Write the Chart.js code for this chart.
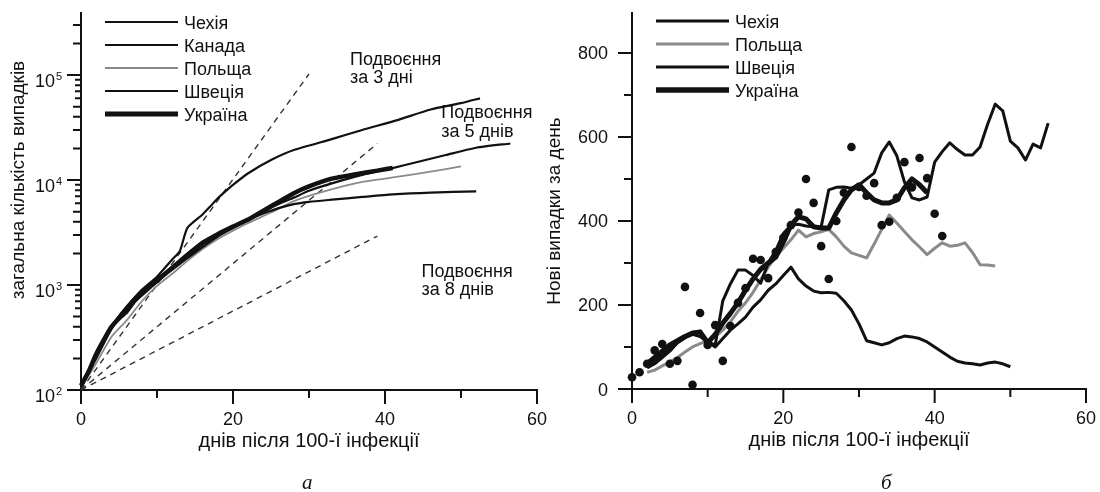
<!DOCTYPE html>
<html>
<head>
<meta charset="utf-8">
<script src="https://cdn.jsdelivr.net/npm/chart.js@4/dist/chart.umd.min.js"></script>
<style>
body { margin: 0; background: #fff; width: 1100px; height: 492px; position: relative; overflow: hidden; }
.box { position: absolute; top: 0; height: 492px; }
.cap { position: absolute; top: 470px; font: italic 21px "Liberation Serif", "Times New Roman", serif; color: #111; }
</style>
</head>
<body>
<div class="box" style="left:0; width:560px"><canvas id="cumul"></canvas></div>
<div class="box" style="left:540px; width:560px"><canvas id="daily"></canvas></div>
<div class="cap" style="left:302px">а</div>
<div class="cap" style="left:881px">б</div>
<script>
// --- а: total cases, log scale ---
const czDaysA = [0, 2, 4, 6, 8, 10, 12, 14, 16, 18, 20, 22, 24, 26, 28, 30, 33, 37, 41, 46, 52];
const czTotal = [110, 210, 400, 620, 880, 1150, 1500, 2000, 2600, 3100, 3600, 4200, 4800, 5400, 5900, 6200, 6500, 6900, 7300, 7600, 7800];
const caDays = [0, 2, 4, 6, 8, 10, 12, 13, 14, 16, 17, 18, 19, 20, 22, 25, 28, 33, 37, 41.5, 46, 50, 52.5];
const caTotal = [105, 210, 400, 620, 900, 1200, 1750, 2100, 3500, 4700, 5600, 6700, 7800, 9000, 11600, 15500, 19300, 24500, 30000, 37000, 47000, 54000, 60000];
const plDaysA = [0, 2, 4, 6, 8, 10, 12, 14, 16, 18, 20, 22, 25, 28, 32, 37, 41.5, 46, 50];
const plTotal = [105, 180, 320, 460, 700, 980, 1280, 1700, 2200, 2750, 3300, 3900, 4900, 6300, 7800, 9600, 10700, 12000, 13500];
const seDaysA = [0, 2, 4, 6, 8, 10, 12, 14, 16, 18, 20, 22, 24, 26, 28, 30, 33, 37, 41, 44, 48, 52, 56.5];
const seTotal = [110, 200, 380, 590, 850, 1100, 1400, 1800, 2300, 2900, 3500, 4200, 5000, 5900, 6800, 7900, 9300, 11200, 13000, 14700, 17300, 20300, 22300];
const uaDaysA = [0, 1, 2, 3, 4, 5, 6, 7, 8, 9, 10, 12, 14, 16, 18, 20, 22, 24, 26, 28, 30, 33, 36, 39, 41];
const uaTotal = [110, 150, 220, 300, 400, 480, 560, 700, 820, 950, 1100, 1450, 1900, 2500, 3050, 3600, 4200, 5100, 6200, 7500, 8700, 10300, 11300, 12300, 13000];

// doubling guides (end points only)
const dbl3Days = [0, 30], dbl3 = [100, 102400];
const dbl5Days = [0, 39], dbl5 = [100, 22300];
const dbl8Days = [0, 39], dbl8 = [100, 2930];

// --- б: new cases per day ---
const czDaysB = [2,3,4,5,6,7,8,9,10,11,12,13,14,15,16,17,18,19,20,21,22,23,24,25,26,27,28,29,30,31,32,33,34,35,36,37,38,39,40,41,42,43,44,45,46,47,48,49,50];
const czDaily = [50,60,75,90,110,122,130,125,112,100,120,140,155,171,195,212,235,250,270,290,262,245,233,229,230,228,210,188,155,115,110,105,110,120,126,124,120,112,100,88,76,66,62,60,57,62,64,60,53];
const plDaysB = [2,3,4,5,6,7,8,9,10,11,12,13,14,15,16,17,18,19,20,21,22,23,24,25,26,27,28,29,30,31,32,33,34,35,36,37,38,39,40,41,42,43,44,45,46,47,48];
const plDaily = [40,45,55,65,75,88,100,108,115,125,140,160,185,205,230,260,290,315,335,355,378,362,370,374,380,362,340,324,318,312,345,380,414,395,375,355,338,320,335,348,340,342,348,325,296,295,293];
const seDaysB = [2,3,4,5,6,7,8,9,10,11,12,13,14,15,16,17,18,19,20,21,22,23,24,25,26,27,28,29,30,31,32,33,34,35,36,37,38,39,40,41,42,43,44,45,46,47,48,49,50,51,52,53,54,55];
const seDaily = [55,68,80,95,110,122,135,136,112,105,210,250,283,283,270,252,300,330,370,390,392,388,386,386,474,480,481,478,486,500,514,562,588,555,493,455,450,457,540,565,586,570,557,557,576,630,678,662,590,574,545,583,574,633];
const uaDaysB = [2,3,4,5,6,7,8,9,10,11,12,13,14,15,16,17,18,19,20,21,22,23,24,25,26,27,28,29,30,31,32,33,34,35,36,37,38,39];
const uaDaily = [60,75,90,105,115,125,133,136,110,130,157,180,205,235,262,285,300,314,350,390,410,405,386,383,383,419,450,474,486,467,450,443,443,450,479,500,486,467];
const uaDotDays = [0,1,2,3,4,5,6,7,8,9,10,11,12,13,14,15,16,17,18,19,20,21,22,23,24,25,26,27,28,29,30,31,32,33,34,35,36,37,38,39,40,41];
const uaDots = [28,40,60,92,107,60,67,243,10,181,105,152,67,150,205,240,310,307,264,326,360,390,420,500,443,340,262,400,467,576,481,460,490,390,398,455,540,480,550,502,417,364];

// ticks
const xMajor = [0, 20, 40, 60], xMinor = [10, 30, 50];
const logMajor = [100, 1000, 10000, 100000];
const logExp = ['2', '3', '4', '5'];
const dailyMajor = [0, 200, 400, 600, 800], dailyMinor = [100, 300, 500, 700];

const FONT = '"Liberation Sans", Arial, sans-serif';
const ink = '#111';
const grey = '#8a8a8a';

function pts(days, vals) {
    return days.map((d, i) => ({x: d, y: vals[i]}));
}

function marks(ctx, scale, values, len) {
    ctx.beginPath();
    values.forEach(v => {
        const p = scale.getPixelForValue(v);
        if (scale.isHorizontal()) {
            ctx.moveTo(p, scale.top); ctx.lineTo(p, scale.top + len);
        } else {
            ctx.moveTo(scale.right, p); ctx.lineTo(scale.right - len, p);
        }
    });
    ctx.stroke();
}

function sideTitle(ctx, text, x, y) {
    ctx.save();
    ctx.translate(x, y);
    ctx.rotate(-Math.PI / 2);
    ctx.textAlign = 'center';
    ctx.fillText(text, 0, 6.5);
    ctx.restore();
}

function decor(cfg) {
    return {
        id: 'decor',
        afterDraw(chart) {
            const ctx = chart.ctx, xs = chart.scales.x, ys = chart.scales.y, area = chart.chartArea;
            ctx.save();
            ctx.strokeStyle = ink; ctx.fillStyle = ink; ctx.lineWidth = 2;
            marks(ctx, xs, xMajor, 14);
            marks(ctx, xs, xMinor, 8);
            marks(ctx, ys, cfg.yMajor, 14);
            marks(ctx, ys, cfg.yMinor, 8);
            if (cfg.yFine) marks(ctx, ys, cfg.yFine, 6);

            ctx.font = '18px ' + FONT;
            ctx.textAlign = 'center';
            xMajor.forEach(v => ctx.fillText(String(v), xs.getPixelForValue(v), area.bottom + 35));
            if (cfg.exps) {
                cfg.yMajor.forEach((v, i) => {
                    const p = ys.getPixelForValue(v);
                    ctx.font = '18px ' + FONT; ctx.textAlign = 'right';
                    ctx.fillText('10', area.left - 26, p + 12);
                    ctx.font = '11px ' + FONT; ctx.textAlign = 'left';
                    ctx.fillText(cfg.exps[i], area.left - 25, p + 5);
                });
            } else {
                ctx.textAlign = 'right';
                cfg.yMajor.forEach(v => ctx.fillText(String(v), area.left - 24, ys.getPixelForValue(v) + 6.5));
            }

            ctx.font = '20px ' + FONT;
            ctx.textAlign = 'center';
            ctx.fillText(cfg.xTitle, (area.left + area.right) / 2, area.bottom + 57);
            ctx.font = '19px ' + FONT;
            sideTitle(ctx, cfg.yTitle, cfg.yTitleX, cfg.yTitleY);

            // legend
            ctx.font = '18px ' + FONT;
            ctx.textAlign = 'left';
            const keys = chart.data.datasets.filter(d => d.rank !== undefined).sort((a, b) => a.rank - b.rank);
            keys.forEach((d, i) => {
                const y = cfg.keyY + i * 23;
                ctx.strokeStyle = d.borderColor;
                ctx.lineWidth = d.keyWidth;
                ctx.beginPath(); ctx.moveTo(cfg.keyX, y); ctx.lineTo(cfg.keyX + 73, y); ctx.stroke();
                ctx.fillText(d.label, cfg.keyX + 79, y + 6.5);
            });

            // notes on the doubling lines
            (cfg.notes || []).forEach(n => {
                const x = xs.getPixelForValue(n.day), y = ys.getPixelForValue(n.value);
                ctx.fillText(n.text[0], x, y + 6.5);
                ctx.fillText(n.text[1], x, y + 25);
            });
            ctx.restore();
        }
    };
}

const baseScales = (yOpts, xHeight, yWidth) => ({
    x: {
        type: 'linear', min: 0, max: 60,
        ticks: {display: false},
        grid: {display: false, drawTicks: false},
        border: {color: ink, width: 2},
        afterFit: s => { s.height = xHeight; }
    },
    y: Object.assign({
        ticks: {display: false},
        grid: {display: false, drawTicks: false},
        border: {color: ink, width: 2},
        afterFit: s => { s.width = yWidth; }
    }, yOpts)
});

function line(label, days, vals, color, width, rank, keyWidth) {
    return {label: label, data: pts(days, vals), borderColor: color, borderWidth: width,
        rank: rank, keyWidth: keyWidth, pointRadius: 0, borderJoinStyle: 'round', clip: false};
}

function guide(days, vals) {
    return {label: '', data: pts(days, vals), borderColor: '#333', borderWidth: 1.4,
        borderDash: [6, 5], pointRadius: 0, tension: 0, clip: false};
}

const minorLog = [], fineLog = [];
logMajor.forEach(m => {
    [2, 3, 4, 5].forEach(k => { if (m * k <= 300000) minorLog.push(m * k); });
    [6, 7, 8, 9].forEach(k => { if (m * k <= 300000) fineLog.push(m * k); });
});

new Chart(document.getElementById('cumul'), {
    type: 'line',
    data: {
        datasets: [
            line('Україна', uaDaysA, uaTotal, ink, 4.5, 4, 5),
            line('Чехія', czDaysA, czTotal, ink, 2.2, 0, 2.2),
            line('Канада', caDays, caTotal, ink, 2.2, 1, 2.2),
            line('Швеція', seDaysA, seTotal, ink, 2.2, 3, 2.2),
            line('Польща', plDaysA, plTotal, grey, 1.8, 2, 2),
            guide(dbl3Days, dbl3),
            guide(dbl5Days, dbl5),
            guide(dbl8Days, dbl8)
        ]
    },
    options: {
        responsive: true,
        maintainAspectRatio: false,
        animation: false,
        layout: {padding: {top: 13, right: 23, left: 0, bottom: 0}},
        elements: {line: {tension: 0.2, fill: false}},
        plugins: {legend: {display: false}, tooltip: {enabled: false}},
        scales: baseScales({type: 'logarithmic', min: 100, max: 390000}, 102, 81)
    },
    plugins: [decor({
        yMajor: logMajor, yMinor: minorLog, yFine: fineLog, exps: logExp,
        xTitle: 'днів після 100-ї інфекції',
        yTitle: 'загальна кількість випадків', yTitleX: 17, yTitleY: 180,
        keyX: 105, keyY: 22,
        notes: [
            {text: ['Подвоєння', 'за 3 дні'], day: 35.4, value: 145000},
            {text: ['Подвоєння', 'за 5 днів'], day: 47.4, value: 44500},
            {text: ['Подвоєння', 'за 8 днів'], day: 44.8, value: 1390}
        ]
    })]
});

new Chart(document.getElementById('daily'), {
    type: 'line',
    data: {
        datasets: [
            {label: '', data: pts(uaDotDays, uaDots), showLine: false, pointRadius: 4.3,
                pointBackgroundColor: ink, pointBorderWidth: 0, clip: false},
            line('Україна', uaDaysB, uaDaily, ink, 5, 3, 5.5),
            line('Чехія', czDaysB, czDaily, ink, 3, 0, 3),
            line('Швеція', seDaysB, seDaily, ink, 3, 2, 3),
            line('Польща', plDaysB, plDaily, grey, 3, 1, 3)
        ]
    },
    options: {
        responsive: true,
        maintainAspectRatio: false,
        animation: false,
        layout: {padding: {top: 13, right: 14, left: 0, bottom: 0}},
        elements: {line: {tension: 0, fill: false}},
        plugins: {legend: {display: false}, tooltip: {enabled: false}},
        scales: baseScales({type: 'linear', min: 0, max: 895}, 103, 92)
    },
    plugins: [decor({
        yMajor: dailyMajor, yMinor: dailyMinor,
        xTitle: 'днів після 100-ї інфекції',
        yTitle: 'Нові випадки за день', yTitleX: 13, yTitleY: 211,
        keyX: 116, keyY: 21
    })]
});
</script>
</body>
</html>
